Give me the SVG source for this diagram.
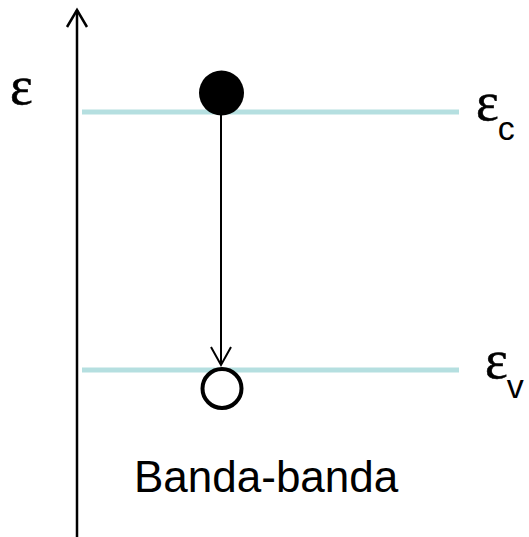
<svg xmlns="http://www.w3.org/2000/svg" width="529" height="537" viewBox="0 0 529 537">
  <style>
    .band { stroke: #b5dfe0; stroke-width: 5; fill: none; }
    .line { stroke: #000; fill: none; stroke-linecap: butt; }
    .eps { font-family: "Liberation Serif", "Times New Roman", serif; font-size: 54px; fill: #000; stroke: #000; stroke-width: 0.6; }
    .sub { font-family: "Liberation Sans", Arial, sans-serif; font-size: 34px; fill: #000; stroke: none; }
    .label { font-family: "Liberation Sans", Arial, sans-serif; font-size: 44px; fill: #000; }
  </style>
  <rect width="529" height="537" fill="#fff"/>

  <!-- energy levels -->
  <g id="conduction-band">
    <line class="band" x1="82" y1="112" x2="459" y2="112"/>
    <text class="eps" x="476" y="120">ε<tspan class="sub" dx="-1" dy="20">c</tspan></text>
  </g>
  <g id="valence-band">
    <line class="band" x1="82" y1="370" x2="459" y2="370"/>
    <text class="eps" x="485" y="378">ε<tspan class="sub" dx="-1" dy="20">v</tspan></text>
  </g>

  <!-- energy axis -->
  <g id="energy-axis">
    <line class="line" stroke-width="2.5" x1="77" y1="10" x2="77" y2="537"/>
    <polyline class="line" stroke-width="2.5" points="67,27 77,10 87,27"/>
    <text class="eps" x="10" y="104">ε</text>
  </g>

  <g id="electron">
    <circle cx="221.5" cy="93" r="22.5" fill="#000"/>
  </g>
  <g id="hole">
    <circle cx="222" cy="388.5" r="19.5" fill="#fff" stroke="#000" stroke-width="4"/>
  </g>

  <!-- transition -->
  <g id="connectors">
    <line class="line" stroke-width="2" x1="221" y1="114" x2="221" y2="364"/>
    <polyline class="line" stroke-width="2" points="211,347 221,365 231,347"/>
  </g>

  <g id="caption">
    <text class="label" x="134" y="492">Banda-banda</text>
  </g>
</svg>
